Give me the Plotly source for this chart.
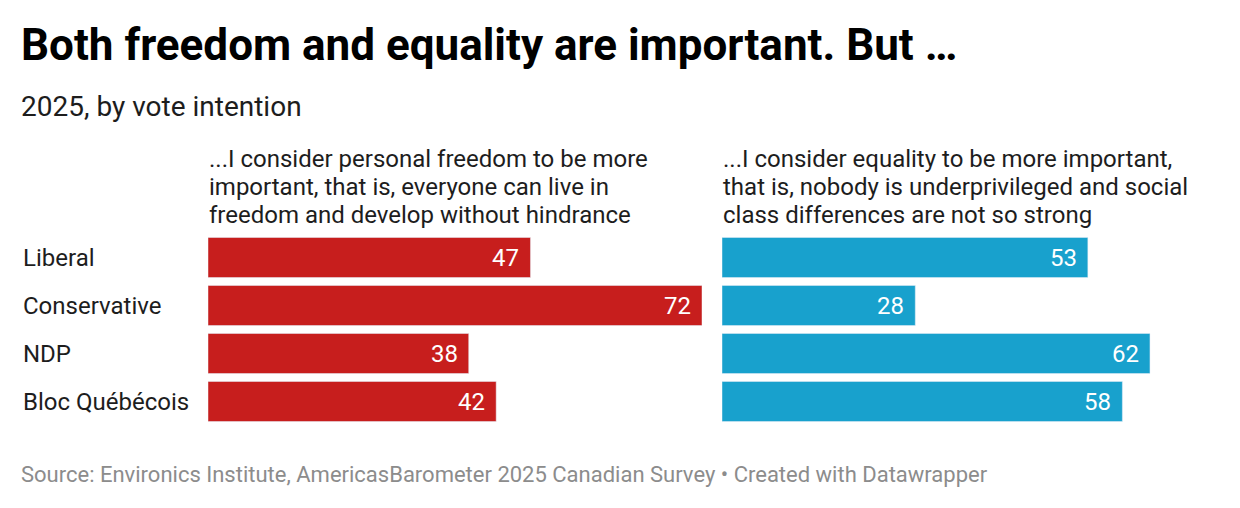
import plotly.graph_objects as go
from plotly.subplots import make_subplots

W, H = 1240, 508

parties = ["Liberal", "Conservative", "NDP", "Bloc Québécois"]
freedom = [47, 72, 38, 42]
equality = [53, 28, 62, 58]

title = "Both freedom and equality are important. But …"
subtitle = "2025, by vote intention"
freedom_head = [
    "...I consider personal freedom to be more",
    "important, that is, everyone can live in",
    "freedom and develop without hindrance",
]
equality_head = [
    "...I consider equality to be more important,",
    "that is, nobody is underprivileged and social",
    "class differences are not so strong",
]
source = "Source: Environics Institute, AmericasBarometer 2025 Canadian Survey • Created with Datawrapper"

RED = "#c71e1d"
BLUE = "#18a1cd"
FONT = "Roboto"


def px(x):
    return x / W


def py(y):
    return 1 - y / H


fig = make_subplots(rows=1, cols=2, shared_yaxes=True, horizontal_spacing=0)

fig.add_trace(go.Bar(x=freedom, y=parties, orientation="h", marker_color=RED), 1, 1)
fig.add_trace(go.Bar(x=equality, y=parties, orientation="h", marker_color=BLUE), 1, 2)

vmax = max(freedom + equality)
ax = dict(range=[0, vmax], showgrid=False, zeroline=False, showticklabels=False,
          fixedrange=True)
fig.update_xaxes(domain=[px(208), px(702)], row=1, col=1, **ax)
fig.update_xaxes(domain=[px(722), px(1219)], row=1, col=2, **ax)
fig.update_yaxes(domain=[py(425.5), py(233.5)], autorange="reversed",
                 showticklabels=False, showgrid=False, zeroline=False)

ann = []
# value labels inside bar ends
for xr, vals in (("x", freedom), ("x2", equality)):
    for p, v in zip(parties, vals):
        ann.append(dict(x=v, y=p, xref=xr, yref="y", text=str(v), showarrow=False,
                        xanchor="right", xshift=-9,
                        font=dict(family=FONT, size=24, color="white")))
# row labels
for p in parties:
    ann.append(dict(x=px(21), y=p, xref="paper", yref="y", text=p, showarrow=False,
                    xanchor="left", font=dict(family=FONT, size=24, color="#1d1d1d")))
# column headers
for x0, lines in ((207, freedom_head), (721, equality_head)):
    for i, line in enumerate(lines):
        ann.append(dict(x=px(x0), y=py(158.5 + 28 * i), xref="paper", yref="paper",
                        text=line, showarrow=False, xanchor="left", yanchor="middle",
                        font=dict(family=FONT, size=24, color="#1d1d1d")))
ann.append(dict(x=px(19), y=py(45), xref="paper", yref="paper", text="<b>" + title + "</b>",
                showarrow=False, xanchor="left", yanchor="middle",
                font=dict(family=FONT, size=44, color="#000000")))
ann.append(dict(x=px(19), y=py(107), xref="paper", yref="paper", text=subtitle,
                showarrow=False, xanchor="left", yanchor="middle",
                font=dict(family=FONT, size=28, color="#1d1d1d")))
ann.append(dict(x=px(19), y=py(474), xref="paper", yref="paper", text=source,
                showarrow=False, xanchor="left", yanchor="middle",
                font=dict(family=FONT, size=22, color="#8c8c8c")))

fig.update_layout(
    width=W, height=H,
    margin=dict(l=0, r=0, t=0, b=0),
    paper_bgcolor="white", plot_bgcolor="white",
    showlegend=False, bargap=8 / 48,
    annotations=ann,
    font=dict(family=FONT),
)

fig.write_html("out.html", config={"displayModeBar": False},
               post_script="document.body.style.margin='0';")
